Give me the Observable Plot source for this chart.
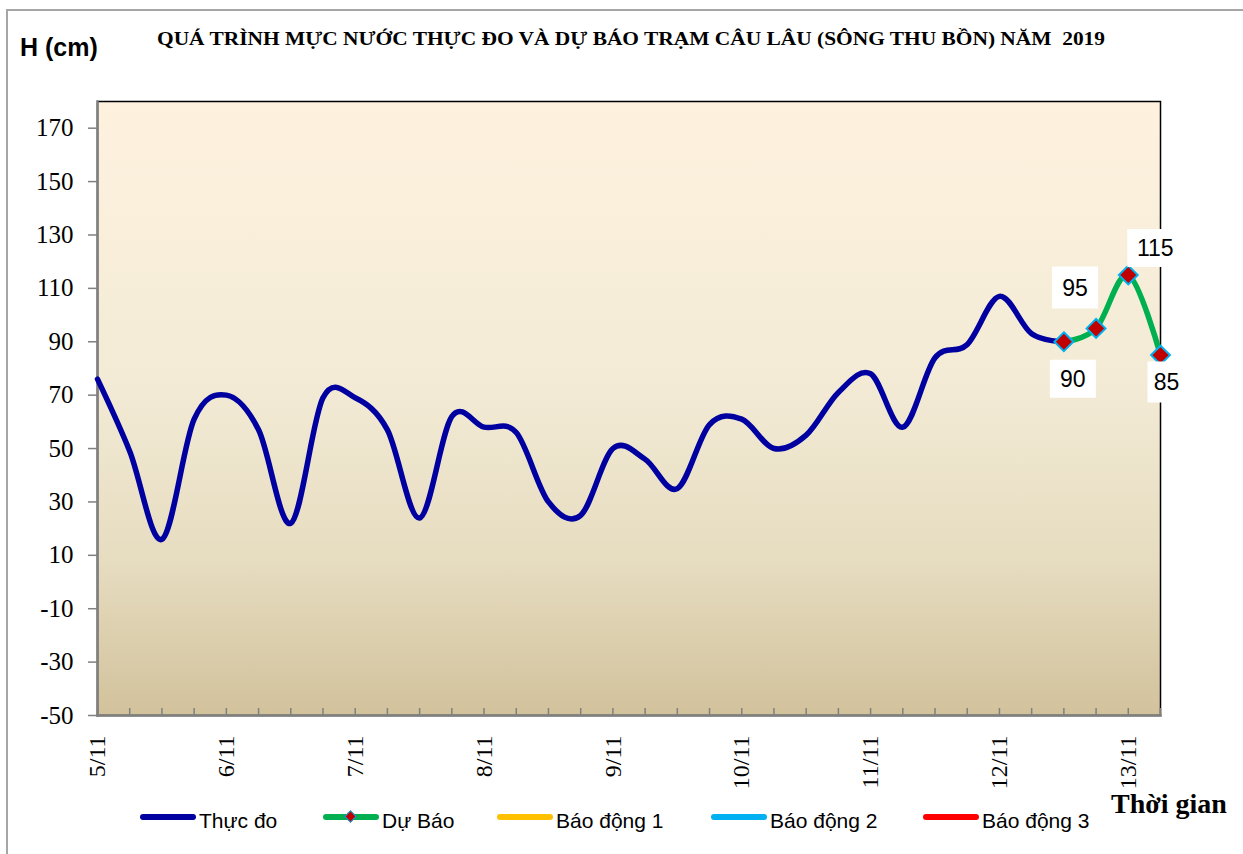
<!DOCTYPE html>
<html>
<head>
<meta charset="utf-8">
<script src="https://cdn.jsdelivr.net/npm/d3@7"></script>
<script src="https://cdn.jsdelivr.net/npm/@observablehq/plot@0.6"></script>
<style>
  html, body { margin: 0; padding: 0; background: #fff; }
  #wrap { position: relative; width: 1243px; height: 854px; overflow: hidden; background: #fff; }
  #border { position: absolute; left: 6px; top: 9px; width: 1400px; height: 1000px;
            border-left: 2px solid #a6a6a6; border-top: 2px solid #a6a6a6; }
  #ylabel { position: absolute; left: 20px; top: 33px; line-height: 25px;
            font: bold 25px "Liberation Sans", Arial, sans-serif; color: #000; white-space: nowrap; }
  #title { position: absolute; left: 157px; top: 29px; line-height: 18px;
           font: bold 18px "Liberation Serif", "Times New Roman", serif; color: #000;
           white-space: pre; transform-origin: 0 0; }
  #xlabel { position: absolute; left: 1111px; top: 788px; line-height: 28px;
            font: bold 28px "Liberation Serif", "Times New Roman", serif; color: #000; white-space: nowrap; }
  #chart { position: absolute; left: 0; top: 80px; }
  #debug { position: absolute; left: 300px; top: 838px; font: 10px monospace; color: #999; white-space: nowrap; }
  .lg-line { position: absolute; top: 814px; height: 6px; border-radius: 3px; }
  .lg-text { position: absolute; top: 809px; line-height: 21px;
             font: 21px "Liberation Sans", Arial, sans-serif; color: #000; white-space: nowrap; }
  .lg-mark { position: absolute; top: 812px; width: 7px; height: 7px; transform: rotate(45deg);
             background: #C00000; border: 1.5px solid #00B0F0; }
</style>
</head>
<body>
<div id="wrap">
  <div id="border"></div>
  <div id="ylabel">H (cm)</div>
  <div id="title"></div>
  <div id="chart"></div>
  <div id="xlabel">Thời gian</div>
</div>
<script>
// ---------------- DATA ----------------
const chartTitle = "QUÁ TRÌNH MỰC NƯỚC THỰC ĐO VÀ DỰ BÁO TRẠM CÂU LÂU (SÔNG THU BỒN) NĂM  2019";
const startTime = Date.UTC(2019, 10, 5, 0);   // 5/11/2019 00h
const endTime = Date.UTC(2019, 10, 13, 6);    // 13/11/2019 06h
const stepHours = 6;
// Observed water level (cm), every 6 hours from 5/11 00h
const observedLevels = [76, 49, 16, 61, 70, 57, 22, 69, 69, 57, 24, 62, 58, 56, 30, 25,
                        50, 46, 35, 59, 61, 50, 55, 71, 78, 58, 84, 89, 107, 93, 90];
// Forecast (cm), starting at the last observed step
const forecastStartStep = 30;
const forecastLevels = [90, 95, 115, 85];
// Axes
const yTicks = [-50, -30, -10, 10, 30, 50, 70, 90, 110, 130, 150, 170];
const dayLabels = ["5/11", "6/11", "7/11", "8/11", "9/11", "10/11", "11/11", "12/11", "13/11"];
// Legend
const legendLabels = ["Thực đo", "Dự Báo", "Báo động 1", "Báo động 2", "Báo động 3"];
const legendColors = ["#0000A0", "#00B050", "#FFC000", "#00B0F0", "#FF0000"];

// ---------------- BUILD ----------------
const HOUR = 3600e3;
const observed = observedLevels.map((v, i) => ({time: new Date(startTime + i * stepHours * HOUR), level: v}));
const forecast = forecastLevels.map((v, i) => ({time: new Date(startTime + (forecastStartStep + i) * stepHours * HOUR), level: v}));
const dayDates = dayLabels.map((_, i) => new Date(startTime + i * 24 * HOUR));
const dayLabelOf = new Map(dayDates.map((d, i) => [+d, dayLabels[i]]));
const minorTicks = d3.utcHour.every(stepHours).range(new Date(startTime), new Date(endTime + 1));

// label boxes: [dx, dy, w, h] (styling/layout)
const labelBoxes = [[9, 37, 46, 38], [-21, -41, 46, 42], [27, -27, 56, 38], [6, 27, 38, 41]];
const rectSymbol = (w, h) => ({draw(ctx) { ctx.rect(-w / 2, -h / 2, w, h); }});

const serif = "Liberation Serif";
const sans = "Liberation Sans";

const labelMarks = forecast.flatMap((d, i) => {
  const [dx, dy, w, h] = labelBoxes[i];
  return [
    Plot.dot([d], {x: "time", y: "level", dx, dy, symbol: rectSymbol(w, h), fill: "#fff", stroke: "none"}),
    Plot.text([d], {x: "time", y: "level", dx, dy: dy + 1, text: (p) => String(p.level),
                    fontFamily: sans, fontSize: 23, fill: "#000"})
  ];
});

const chart = Plot.plot({
  width: 1243,
  height: 720,
  marginTop: 21,
  marginBottom: 85,
  marginLeft: 97,
  marginRight: 83,
  style: {background: "transparent", overflow: "visible"},
  x: {type: "utc", domain: [new Date(startTime), new Date(endTime)]},
  y: {domain: [-50, 180]},
  marks: [
    Plot.frame({fill: "url(#bgGrad)", stroke: "#000", strokeWidth: 1.5}),
    Plot.frame({anchor: "left", stroke: "#808080", strokeWidth: 2.5}),
    Plot.frame({anchor: "bottom", stroke: "#808080", strokeWidth: 2.5}),
    Plot.axisY({ticks: yTicks, tickSize: 9, tickPadding: 15, stroke: "#808080", strokeWidth: 1.5,
                fill: "#000", fontSize: 25, fontFamily: serif, label: null, tickFormat: (d) => String(d)}),
    Plot.axisX({ticks: minorTicks, tickSize: -7, tickFormat: () => "", stroke: "#808080",
                strokeWidth: 1.5, label: null}),
    Plot.axisX({ticks: dayDates, tickSize: 0, tickPadding: 20, tickRotate: -90,
                tickFormat: (d) => dayLabelOf.get(+d), fill: "#000", fontSize: 24, fontFamily: serif, label: null}),
    Plot.line(observed, {x: "time", y: "level", stroke: "#0000A0", strokeWidth: 5.5,
                         curve: "cardinal", tension: 0, strokeLinecap: "round", strokeLinejoin: "round"}),
    Plot.line(forecast, {x: "time", y: "level", stroke: "#00B050", strokeWidth: 5.5,
                         curve: "cardinal", tension: 0, strokeLinecap: "round", strokeLinejoin: "round"}),
    Plot.dot(forecast, {x: "time", y: "level", symbol: "diamond2", r: 8.5, fill: "#C00000",
                        stroke: "#00B0F0", strokeWidth: 2}),
    ...labelMarks
  ]
});

// background gradient
const NS = "http://www.w3.org/2000/svg";
const defs = document.createElementNS(NS, "defs");
defs.innerHTML = '<linearGradient id="bgGrad" x1="0" y1="0" x2="0" y2="1">' +
  '<stop offset="0" stop-color="#FEF2DF"/><stop offset="0.45" stop-color="#F3EBD6"/>' +
  '<stop offset="0.75" stop-color="#E6DCC0"/><stop offset="1" stop-color="#D2C29C"/></linearGradient>';
chart.insertBefore(defs, chart.firstChild);
document.getElementById("chart").appendChild(chart);

// force serif on axis tick labels
chart.querySelectorAll("g").forEach((g) => {
  const al = g.getAttribute("aria-label") || "";
  if (al.includes("axis")) {
    g.setAttribute("font-family", "Liberation Serif");
    g.style.setProperty("font-family", "'Liberation Serif', 'Times New Roman', serif", "important");
    g.querySelectorAll("text").forEach((t) => {
      t.style.setProperty("font-family", "'Liberation Serif', 'Times New Roman', serif", "important");
    });
  }
});

// title fitted to width
const titleEl = document.getElementById("title");
titleEl.textContent = chartTitle;
const tw = titleEl.getBoundingClientRect().width;
titleEl.style.transform = `scaleX(${948 / tw})`;

// legend
const wrap = document.getElementById("wrap");
const legendLayout = [[140, 56], [323, 56], [497, 56], [711, 56], [923, 56]];
legendLabels.forEach((lab, i) => {
  const [x, w] = legendLayout[i];
  const ln = document.createElement("div");
  ln.className = "lg-line";
  ln.style.left = x + "px";
  ln.style.width = w + "px";
  ln.style.background = legendColors[i];
  wrap.appendChild(ln);
  if (i === 1) {
    const mk = document.createElement("div");
    mk.className = "lg-mark";
    mk.style.left = (x + w / 2 - 5) + "px";
    wrap.appendChild(mk);
  }
  const tx = document.createElement("div");
  tx.className = "lg-text";
  tx.style.left = (x + w + 3) + "px";
  tx.textContent = lab;
  wrap.appendChild(tx);
});
</script>
</body>
</html>
